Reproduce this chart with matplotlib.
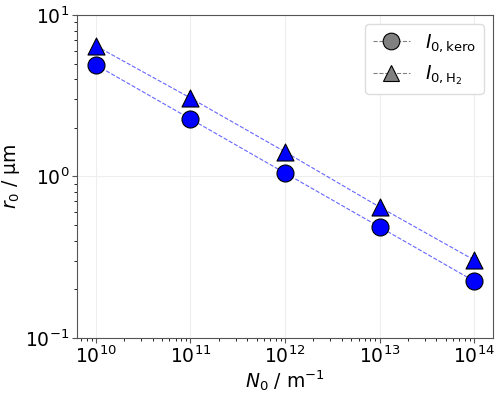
import matplotlib.pyplot as plt
from matplotlib.lines import Line2D
import numpy as np

N0 = [1e10, 1e11, 1e12, 1e13, 1e14]
r0_kero = [4.9, 2.27, 1.05, 0.487, 0.225]
r0_h2 = [6.43, 3.06, 1.42, 0.647, 0.304]

fig, ax = plt.subplots(figsize=(5, 3.93), dpi=100)
ax.plot(N0, r0_kero, "--", color="blue", lw=0.8, alpha=0.6, zorder=1)
ax.plot(N0, r0_h2, "--", color="blue", lw=0.8, alpha=0.6, zorder=1)
ax.scatter(N0, r0_kero, s=150, marker="o", color="blue", edgecolor="black", lw=0.8, zorder=2)
ax.scatter(N0, r0_h2, s=150, marker="^", color="blue", edgecolor="black", lw=0.8, zorder=2)
ax.set_xscale("log")
ax.set_yscale("log")
ax.set_ylim(0.1, 10)
ax.grid(True, color="#eeeeee", lw=0.8)
ax.set_axisbelow(True)
for s in ax.spines.values():
    s.set_color("#555555")
ax.tick_params(labelsize=13.5, colors="#555555", labelcolor="black", pad=2)
ax.set_xlabel(r"$N_0$ / m$^{-1}$", fontsize=13.5, labelpad=1)
ax.set_ylabel(r"$r_0$ / µm", fontsize=13.5, labelpad=2)

handles = [
    Line2D([], [], ls="--", lw=0.8, color="grey", marker="o", ms=12,
           mfc="grey", mec="black", mew=0.8),
    Line2D([], [], ls="--", lw=0.8, color="grey", marker="^", ms=12,
           mfc="grey", mec="black", mew=0.8),
]
ax.legend(handles, [r"$I_{0,\mathrm{kero}}$", r"$I_{0,\mathrm{H_2}}$"],
          loc="upper right", fontsize=13.5, framealpha=1, edgecolor="#dddddd")

fig.subplots_adjust(left=0.154, right=0.986, top=0.962, bottom=0.14)
fig.savefig("out.png")
